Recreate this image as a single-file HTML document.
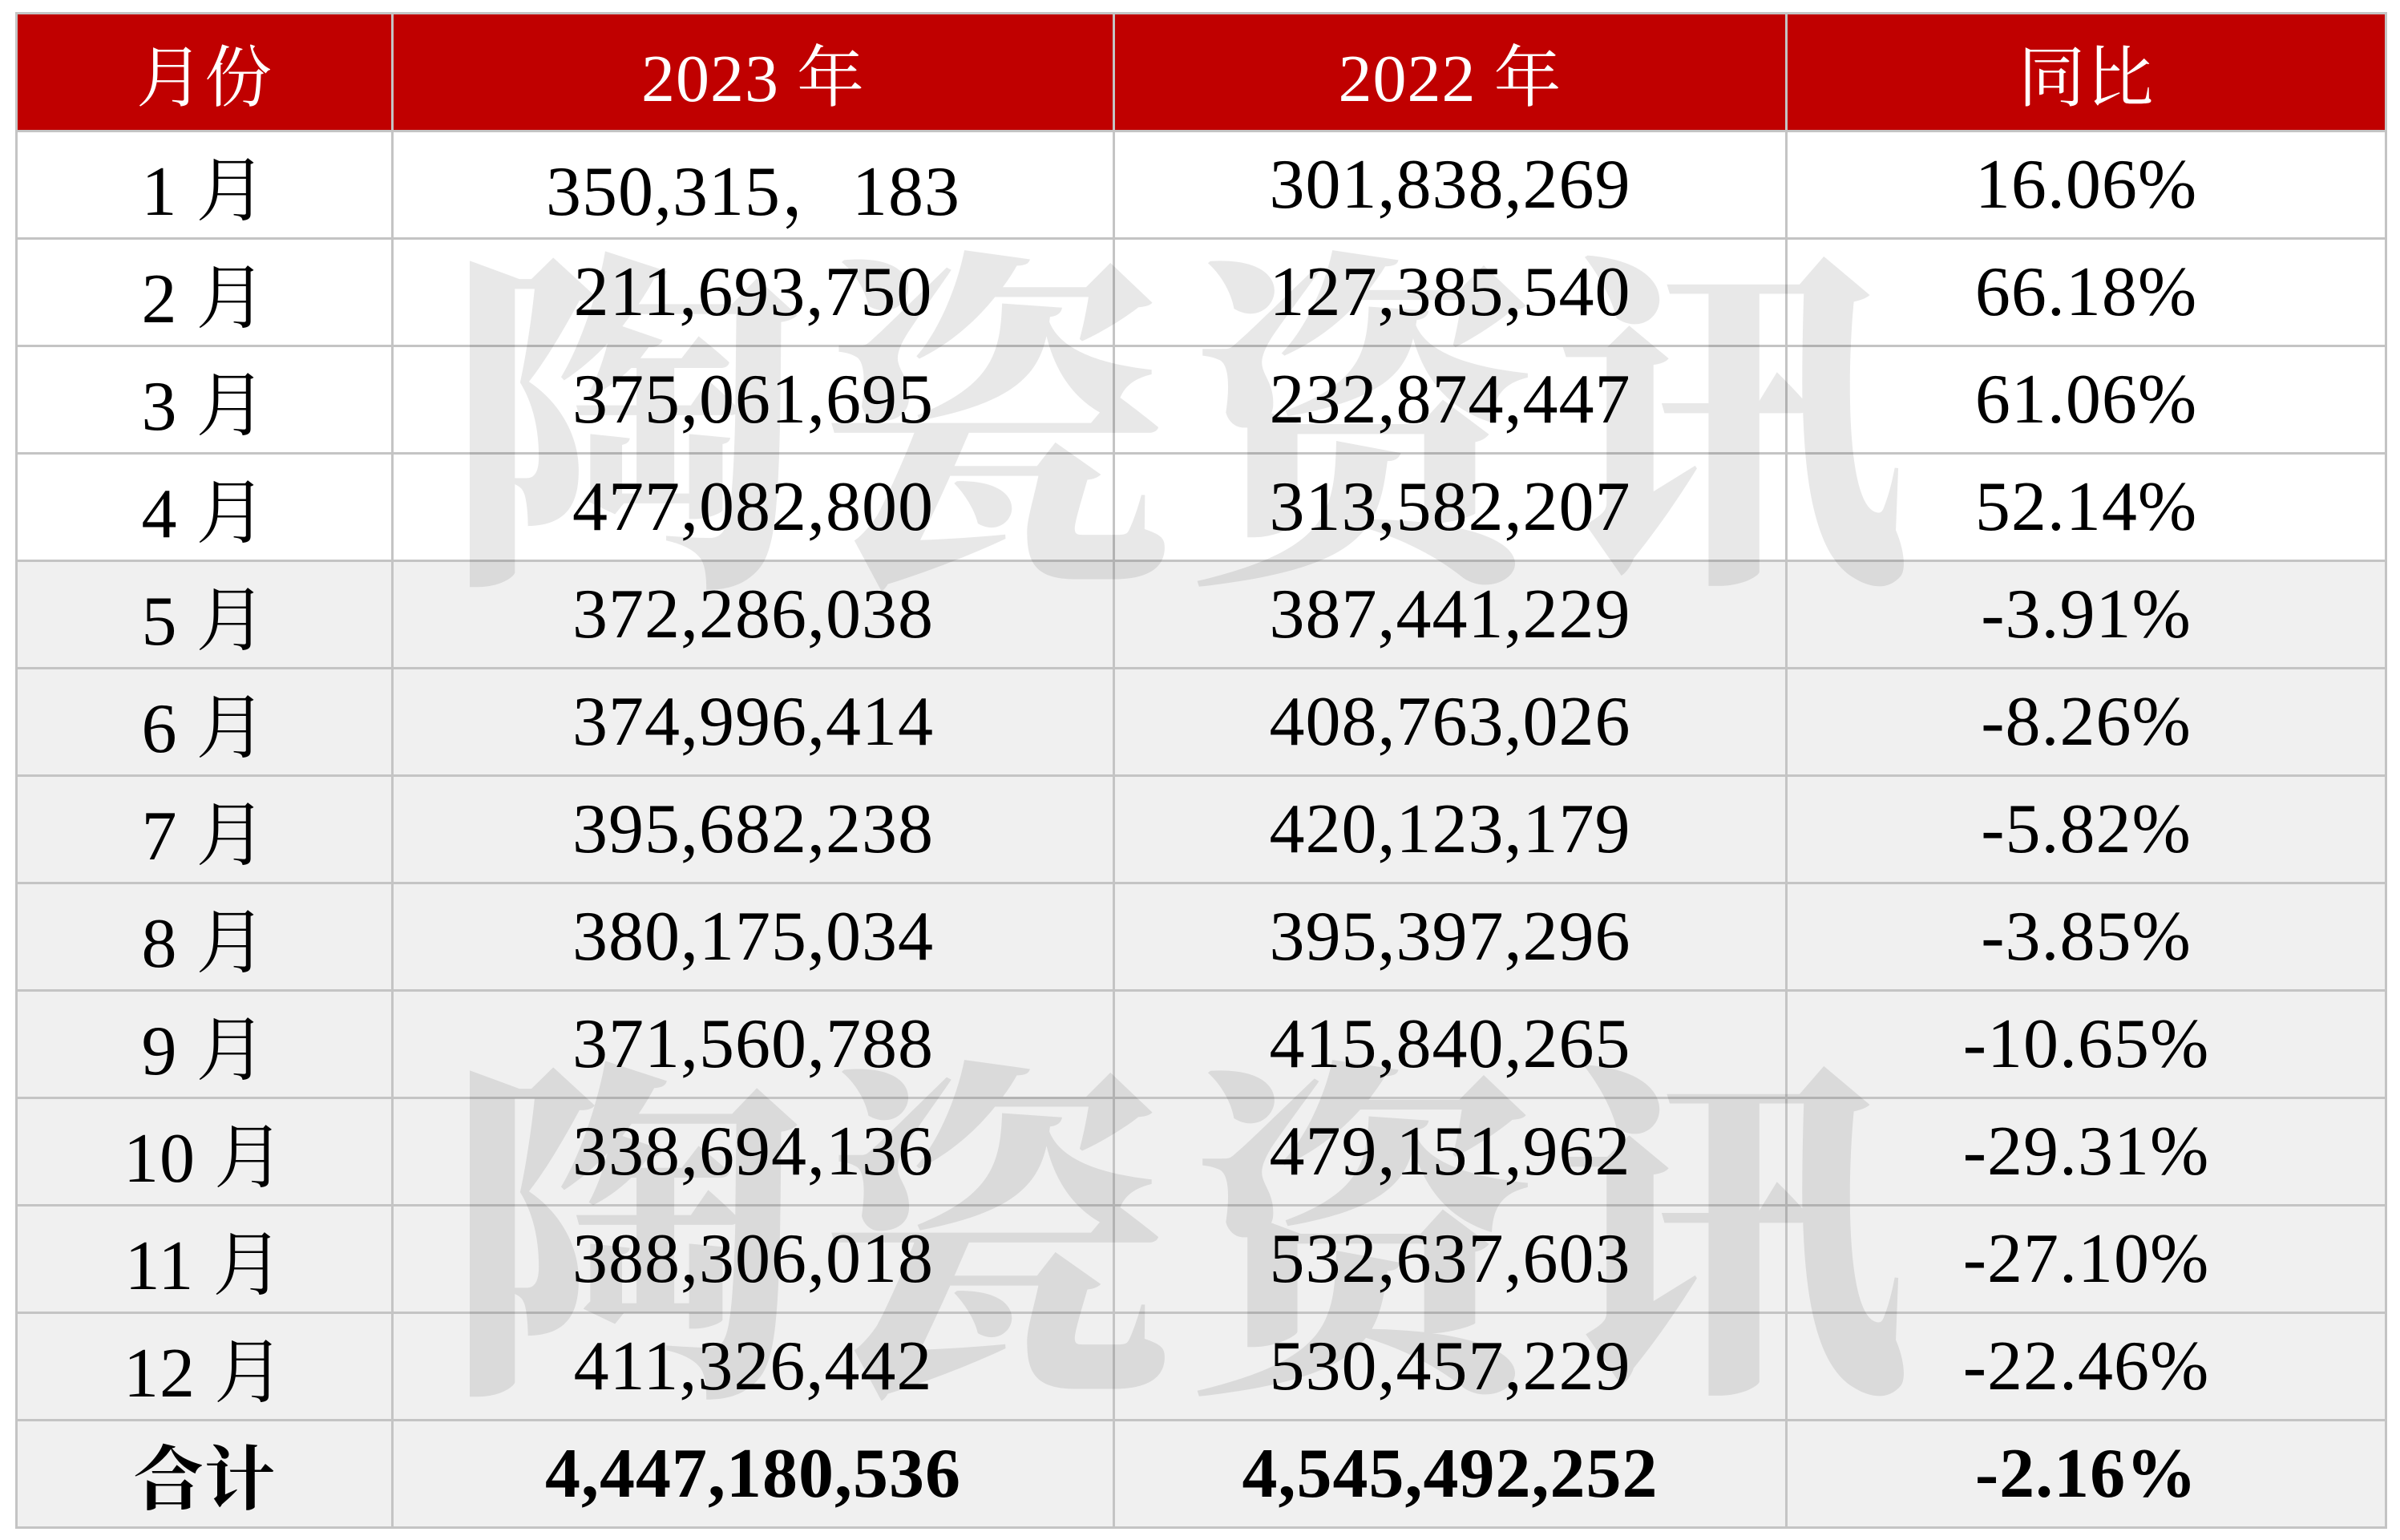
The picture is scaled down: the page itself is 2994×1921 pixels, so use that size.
<!DOCTYPE html>
<html><head><meta charset="utf-8"><style>
body{margin:0;width:2994px;height:1921px;background:#fff;position:relative;overflow:hidden;font-family:"Liberation Serif","Noto Serif CJK SC",serif;}
.wm{position:absolute;font-family:"Noto Serif CJK SC",serif;font-size:440px;color:rgba(0,0,0,0.09);line-height:1;white-space:nowrap;letter-spacing:20px;z-index:2;font-weight:900;}
table{position:absolute;left:19px;top:15px;border-collapse:collapse;z-index:1;}
td{border:3px solid #c4c4c4;text-align:center;font-size:88px;letter-spacing:1px;height:131px;padding:0;color:#000;}
tr.h td{background:#c00000;color:#fff;height:144px;font-size:84px;}
tr.g td{background:#f0f0f0;}
tr.t td{font-weight:bold;}
</style></head><body>
<table>
<colgroup><col style="width:469px"><col style="width:900px"><col style="width:839px"><col style="width:748px"></colgroup>
<tr class="h"><td>月份</td><td>2023 年</td><td>2022 年</td><td>同比</td></tr>
<tr><td>1 月</td><td>350,315，183</td><td>301,838,269</td><td>16.06%</td></tr>
<tr><td>2 月</td><td>211,693,750</td><td>127,385,540</td><td>66.18%</td></tr>
<tr><td>3 月</td><td>375,061,695</td><td>232,874,447</td><td>61.06%</td></tr>
<tr><td>4 月</td><td>477,082,800</td><td>313,582,207</td><td>52.14%</td></tr>
<tr class="g"><td>5 月</td><td>372,286,038</td><td>387,441,229</td><td>-3.91%</td></tr>
<tr class="g"><td>6 月</td><td>374,996,414</td><td>408,763,026</td><td>-8.26%</td></tr>
<tr class="g"><td>7 月</td><td>395,682,238</td><td>420,123,179</td><td>-5.82%</td></tr>
<tr class="g"><td>8 月</td><td>380,175,034</td><td>395,397,296</td><td>-3.85%</td></tr>
<tr class="g"><td>9 月</td><td>371,560,788</td><td>415,840,265</td><td>-10.65%</td></tr>
<tr class="g"><td>10 月</td><td>338,694,136</td><td>479,151,962</td><td>-29.31%</td></tr>
<tr class="g"><td>11 月</td><td>388,306,018</td><td>532,637,603</td><td>-27.10%</td></tr>
<tr class="g"><td>12 月</td><td>411,326,442</td><td>530,457,229</td><td>-22.46%</td></tr>
<tr class="g t"><td>合计</td><td>4,447,180,536</td><td>4,545,492,252</td><td>-2.16%</td></tr>
</table>
<div class="wm" style="left:560px;top:280px;">陶瓷资讯</div>
<div class="wm" style="left:560px;top:1290px;">陶瓷资讯</div>
</body></html>
